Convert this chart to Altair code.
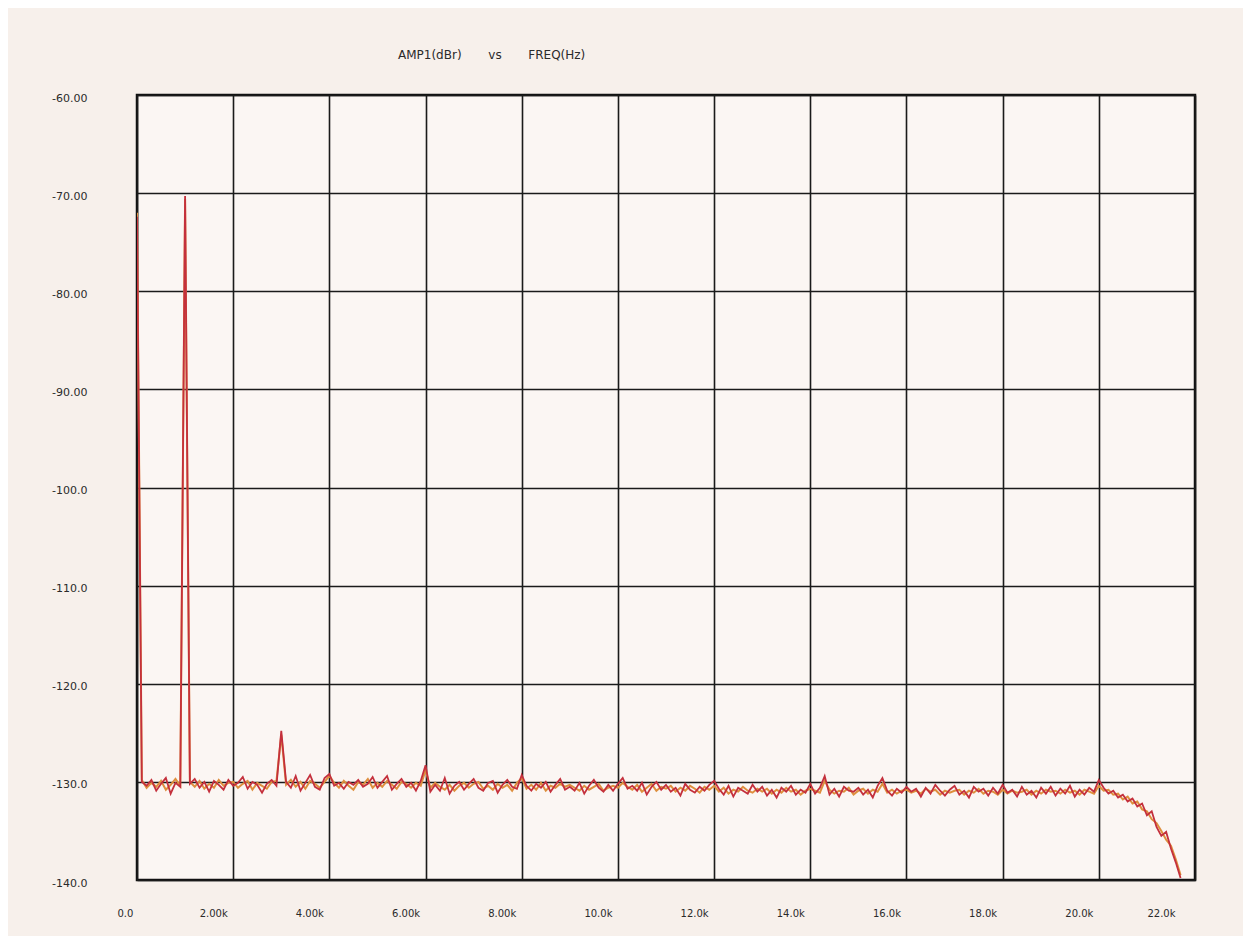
import altair as alt
import pandas as pd

# Frequency grid (Hz), 100 Hz bins from 0 to 21.7 kHz
freq_hz = list(range(0, 21800, 100))

# Red trace (dBr)
red_db = [
    -72.4, -130.0, -130.4, -129.8, -130.9, -130.2, -129.6, -131.2, -130.1, -130.5,
    -70.3, -130.2, -129.7, -130.6, -130.0, -131.0, -129.9, -130.3, -130.8, -129.8,
    -130.4, -130.1, -129.5, -130.7, -130.0, -130.3, -131.1, -130.2, -129.8, -130.4,
    -124.8, -130.0, -130.6, -129.4, -130.9, -130.1, -129.3, -130.5, -130.8, -129.6,
    -129.2, -130.4, -130.1, -130.7, -130.0, -130.3, -129.8, -130.5, -130.2, -129.5,
    -130.6, -130.0, -129.4, -130.8, -130.2, -129.7, -130.5, -130.1, -130.9, -129.9,
    -128.3, -131.0, -130.3, -130.9, -129.6, -131.2, -130.4, -130.0, -130.8, -130.2,
    -129.7, -130.6, -130.9, -130.1, -129.9, -131.1, -130.3, -129.8, -130.5, -130.7,
    -129.3, -130.4, -130.9, -130.2, -130.6, -130.0, -131.0, -130.3, -129.7, -130.8,
    -130.5, -130.9, -130.1, -131.2, -130.4, -129.8, -130.6, -131.0, -130.3, -130.9,
    -130.2, -129.6, -130.7, -130.4, -130.9, -130.1, -131.3, -130.5, -130.0, -130.8,
    -130.3, -131.0, -130.6, -131.4, -130.2, -130.8, -131.1, -130.5, -130.9, -130.3,
    -129.9, -130.7, -131.3, -130.4, -131.5, -130.6, -130.9, -131.2, -130.3, -131.0,
    -130.5, -131.4, -130.8, -131.6, -130.6, -131.0, -130.4, -131.3, -130.8, -131.1,
    -130.2, -131.2, -130.6, -129.4, -131.3, -130.7, -131.5, -130.5, -130.9, -131.0,
    -130.6, -131.3, -130.8, -131.6, -130.4, -129.6, -130.9, -131.4, -130.7, -131.1,
    -130.5, -131.0, -130.7, -131.5, -130.6, -131.2, -130.3, -130.9, -131.4, -130.8,
    -130.4, -131.3, -130.9, -131.6, -130.5, -131.0, -130.7, -131.4, -130.6, -131.2,
    -130.3, -131.1, -130.8, -131.5, -130.5, -131.3, -130.9, -131.6, -130.6, -131.2,
    -130.5, -131.4, -130.7, -131.2, -130.4, -131.5, -130.8, -131.3, -130.6, -131.0,
    -129.8, -130.6, -131.2, -130.9, -131.6, -131.3, -132.0, -131.7, -132.5, -132.2,
    -133.4, -133.0, -134.6, -135.5, -135.1, -136.8, -138.2, -139.8,
]

# Orange trace (dBr)
orange_db = [
    -72.0, -129.8, -130.6, -130.1, -130.5, -129.9, -130.8, -130.3, -129.7, -130.4,
    -70.6, -130.0, -130.5, -129.9, -130.7, -130.2, -130.6, -129.8, -130.4, -130.1,
    -130.0, -130.6, -130.2, -129.9, -130.8, -130.1, -130.4, -130.7, -130.0, -129.9,
    -125.2, -130.3, -129.8, -130.5, -130.0, -130.7, -129.9, -130.2, -130.6, -130.0,
    -129.4, -130.1, -130.6, -129.9, -130.4, -130.8, -130.0, -130.3, -129.7, -130.6,
    -130.1, -130.5, -129.9, -130.3, -130.7, -130.0, -130.2, -130.6, -130.1, -130.4,
    -128.8, -130.6, -130.1, -130.5, -130.8, -130.3, -130.9, -130.4, -130.1, -130.6,
    -130.2, -130.0, -130.7, -130.4, -130.8, -130.2, -130.6, -130.3, -130.9, -130.1,
    -129.6, -130.7, -130.3, -130.8, -130.1, -130.9, -130.4, -130.6, -130.2, -130.5,
    -130.3, -130.6, -130.9, -130.4, -130.8, -130.5, -130.2, -130.9, -130.6, -130.4,
    -130.6, -130.1, -130.5, -130.8, -130.3, -131.0, -130.6, -130.2, -130.9, -130.5,
    -130.7, -130.4, -131.0, -130.6, -130.9, -130.4, -130.7, -131.1, -130.5, -130.8,
    -130.4, -131.0, -130.6, -131.2, -130.8, -131.0, -130.5, -130.9, -131.1, -130.7,
    -131.0, -130.7, -131.2, -130.8, -131.1, -130.6, -131.0, -130.8, -131.3, -130.9,
    -130.7, -130.9, -131.1, -129.9, -130.8, -131.2, -130.9, -131.0, -130.6, -131.3,
    -130.9, -130.7, -131.2, -130.8, -131.0, -130.2, -131.1, -130.8, -131.2, -130.9,
    -130.8, -131.1, -130.9, -131.2, -130.7, -131.0, -130.8, -131.3, -130.9, -131.1,
    -130.9, -130.8, -131.3, -130.9, -131.1, -130.7, -131.2, -130.9, -131.0, -131.3,
    -130.8, -131.2, -130.9, -131.1, -131.0, -130.8, -131.3, -130.9, -131.2, -130.8,
    -131.0, -130.9, -131.2, -130.8, -131.1, -130.9, -131.3, -130.8, -131.0, -131.2,
    -130.4, -130.9, -130.8, -131.3, -131.2, -131.8, -131.5, -132.2, -132.0, -132.8,
    -133.0, -133.8, -134.2, -135.0, -135.9, -136.5, -137.9, -139.5,
]

x_ticks = list(range(0, 22001, 2000))
y_ticks = list(range(-140, -59, 10))

title_text = "AMP1(dBr)" + "\u00a0" * 7 + "vs" + "\u00a0" * 7 + "FREQ(Hz)"

red_df = pd.DataFrame({"freq": freq_hz, "amp": red_db})
orange_df = pd.DataFrame({"freq": freq_hz, "amp": orange_db})

x_enc = alt.X(
    "freq:Q",
    scale=alt.Scale(domain=[0, 22000], nice=False, zero=False),
    axis=alt.Axis(
        values=x_ticks,
        title=None,
        grid=True,
        gridColor="#1a1a1a",
        gridWidth=1.6,
        gridOpacity=1,
        domain=False,
        ticks=False,
        labelPadding=28,
        labelOffset=-20,
        labelFont="DejaVu Sans",
        labelFontSize=10,
        labelColor="#2a2a2a",
        labelExpr="datum.value == 0 ? '0.0' : (datum.value < 10000 ? format(datum.value/1000, '.2f') + 'k' : format(datum.value/1000, '.1f') + 'k')",
    ),
)
y_enc = alt.Y(
    "amp:Q",
    scale=alt.Scale(domain=[-140, -60], nice=False, zero=False),
    axis=alt.Axis(
        values=y_ticks,
        title=None,
        grid=True,
        gridColor="#1a1a1a",
        gridWidth=1.6,
        gridOpacity=1,
        domain=False,
        ticks=False,
        labelPadding=50,
        labelOffset=3,
        labelFont="DejaVu Sans",
        labelFontSize=11,
        labelColor="#2a2a2a",
        labelExpr="'-' + (datum.value > -100 ? format(-datum.value, '.2f') : format(-datum.value, '.1f'))",
    ),
)

orange_line = alt.Chart(orange_df).mark_line(
    color="#de8f3e", strokeWidth=2, clip=True
).encode(x=x_enc, y=y_enc)

red_line = alt.Chart(red_df).mark_line(
    color="#c4303c", strokeWidth=1.8, clip=True
).encode(x=x_enc, y=y_enc)

chart = (
    alt.layer(orange_line, red_line)
    .properties(
        width=1058,
        height=785,
        title=alt.TitleParams(
            text=title_text,
            anchor="start",
            frame="group",
            dx=261,
            offset=30,
            font="DejaVu Sans",
            fontSize=12,
            fontWeight="normal",
            color="#2a2a2a",
        ),
        autosize=alt.AutoSizeParams(type="none"),
        padding={"left": 129, "top": 87, "right": 48, "bottom": 56},
        background="#f7f0eb",
    )
    .configure_view(stroke="#111111", strokeWidth=2.5, fill="#fbf6f3")
)

chart.save("out.html", embed_options={"renderer": "svg", "actions": False})
